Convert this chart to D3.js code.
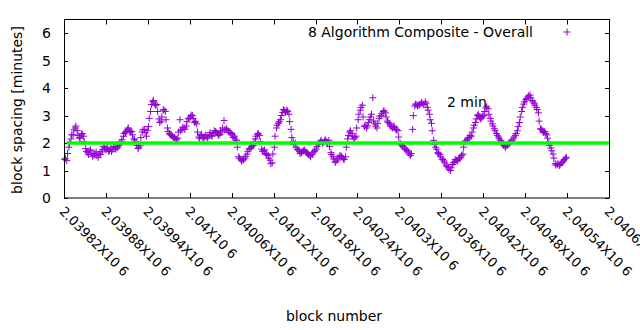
<!DOCTYPE html>
<html>
<head>
<meta charset="utf-8">
<script src="https://cdn.jsdelivr.net/npm/d3@7"></script>
<style>
  body { margin: 0; background: #fff; }
  text { font-family: "DejaVu Sans", sans-serif; fill: #000; }
</style>
</head>
<body>
<script>
// block spacing readings, two interleaved sets, one value every 3 blocks each
var firstBlock = 2039821;
var blockStep = 3;
var spacingA = [
  1.40, 1.36, 1.85, 2.15, 2.30, 2.55, 2.45, 2.20, 2.30, 2.25,
  1.80, 1.65, 1.72, 1.60, 1.55, 1.68, 1.48, 1.58, 1.75, 1.82,
  1.78, 1.70, 1.80, 1.76, 1.85, 1.82, 1.92, 2.05, 2.25, 2.38,
  2.50, 2.45, 2.42, 2.15, 2.05, 1.80, 1.90, 2.40, 2.50, 2.25,
  2.60, 3.15, 3.50, 3.42, 3.40, 2.88, 2.80, 3.20, 3.15, 2.55,
  2.35, 2.28, 2.20, 2.15, 2.18, 2.85, 2.50, 2.55, 2.62, 2.90,
  2.95, 3.00, 2.75, 2.70, 2.22, 2.28, 2.20, 2.25, 2.18, 2.30,
  2.28, 2.35, 2.42, 2.35, 2.32, 2.40, 2.82, 2.50, 2.45, 2.38,
  2.30, 2.25, 2.10, 1.50, 1.42, 1.38, 1.45, 1.60, 1.78, 1.85,
  1.92, 2.15, 2.32, 2.28, 1.78, 1.72, 1.62, 1.55, 1.38, 1.28,
  1.85, 2.55, 2.72, 2.85, 3.12, 3.18, 3.20, 3.05, 2.50, 2.05,
  2.00, 1.78, 1.70, 1.65, 1.72, 1.68, 1.62, 1.55, 1.58, 1.70,
  1.78, 1.95, 2.05, 2.00, 2.08, 2.05, 2.10, 1.65, 1.50, 1.30,
  1.38, 1.50, 1.52, 1.42, 1.50, 2.15, 2.40, 2.35, 2.15, 2.25,
  2.85, 3.20, 3.38, 2.60, 2.55, 2.75, 2.95, 3.65, 2.70, 2.55,
  2.90, 3.00, 3.15, 3.10, 2.80, 2.70, 2.60, 2.62, 2.48, 2.45,
  2.00, 1.92, 1.82, 1.75, 1.68, 1.55, 2.50, 3.35, 3.40, 3.38,
  3.45, 3.42, 3.50, 3.30, 3.05, 2.72, 2.10, 1.85, 1.65, 1.58,
  1.42, 1.35, 1.20, 1.12, 1.00, 1.22, 1.32, 1.38, 1.42, 1.48,
  1.60, 2.05, 2.12, 2.20, 2.25, 2.55, 2.75, 3.00, 2.95, 2.92,
  3.00, 3.28, 3.25, 2.90, 2.70, 2.52, 2.35, 2.22, 2.10, 1.98,
  1.88, 1.90, 2.00, 2.05, 2.15, 2.28, 2.45, 2.75, 3.15, 3.42,
  3.58, 3.68, 3.75, 3.55, 3.45, 3.30, 3.10, 2.52, 2.45, 2.42,
  2.30, 2.02, 1.82, 1.60, 1.25, 1.22, 1.18, 1.28, 1.35, 1.45
];
var spacingB = [
  1.45, 1.62, 2.00, 2.30, 2.48, 2.62, 2.28, 2.18, 2.35, 2.05,
  1.70, 1.58, 1.75, 1.52, 1.62, 1.55, 1.60, 1.68, 1.88, 1.76,
  1.85, 1.72, 1.70, 1.88, 1.78, 1.86, 2.00, 2.12, 2.35, 2.42,
  2.55, 2.40, 2.30, 2.12, 1.92, 1.85, 2.20, 2.48, 2.38, 2.45,
  2.90, 3.40, 3.55, 3.38, 3.15, 2.75, 2.95, 3.22, 2.85, 2.42,
  2.30, 2.25, 2.22, 2.12, 2.40, 2.45, 2.58, 2.50, 2.78, 2.88,
  3.02, 2.90, 2.78, 2.40, 2.18, 2.32, 2.15, 2.28, 2.22, 2.38,
  2.25, 2.45, 2.38, 2.28, 2.45, 2.55, 2.48, 2.52, 2.40, 2.35,
  2.20, 2.15, 1.85, 1.45, 1.35, 1.40, 1.52, 1.70, 1.80, 1.88,
  2.05, 2.25, 2.35, 2.05, 1.70, 1.75, 1.58, 1.45, 1.25, 1.60,
  2.25, 2.65, 2.78, 3.00, 3.22, 3.12, 3.15, 2.78, 2.20, 1.95,
  1.85, 1.75, 1.62, 1.70, 1.75, 1.65, 1.58, 1.50, 1.65, 1.72,
  1.88, 2.00, 2.10, 2.02, 2.12, 2.00, 1.88, 1.58, 1.42, 1.32,
  1.45, 1.55, 1.48, 1.40, 1.85, 2.28, 2.45, 2.25, 2.20, 2.55,
  3.05, 3.30, 2.95, 2.65, 2.62, 2.85, 3.05, 2.80, 2.62, 2.72,
  2.98, 3.08, 3.18, 2.95, 2.75, 2.62, 2.55, 2.58, 2.50, 2.22,
  1.95, 1.88, 1.78, 1.72, 1.60, 1.62, 3.00, 3.42, 3.35, 3.40,
  3.48, 3.40, 3.45, 3.20, 2.85, 2.45, 1.95, 1.78, 1.62, 1.50,
  1.40, 1.28, 1.15, 1.05, 1.10, 1.28, 1.40, 1.35, 1.45, 1.55,
  1.85, 2.08, 2.18, 2.28, 2.40, 2.65, 2.88, 3.05, 2.88, 2.98,
  3.15, 3.32, 3.05, 2.80, 2.62, 2.45, 2.28, 2.15, 2.05, 1.92,
  1.85, 1.95, 2.02, 2.10, 2.22, 2.35, 2.60, 2.95, 3.30, 3.50,
  3.62, 3.72, 3.65, 3.50, 3.38, 3.22, 2.80, 2.50, 2.38, 2.35,
  2.18, 1.92, 1.72, 1.45, 1.20, 1.25, 1.22, 1.30, 1.40, 1.48
];
var targetBlocks = [2039824, 2040600];
var targetMinutes = [2, 2];
var xTicks = [2039820, 2039880, 2039940, 2040000, 2040060, 2040120, 2040180,
              2040240, 2040300, 2040360, 2040420, 2040480, 2040540, 2040600];
var yTicks = [0, 1, 2, 3, 4, 5, 6];
var seriesName = "8 Algorithm Composite - Overall";
var targetLabel = "2 min";

var W = 640, H = 330;
var margin = {left: 64, right: 31, top: 19.5, bottom: 132};

var svg = d3.select("body").append("svg")
    .attr("width", W)
    .attr("height", H);

var x = d3.scaleLinear()
    .domain([2039820, 2040600])
    .range([margin.left, W - margin.right]);
var y = d3.scaleLinear()
    .domain([0, 6.5])
    .range([H - margin.bottom, margin.top]);

var points = [];
spacingA.forEach(function(v, i) {
    points.push({block: firstBlock + i * blockStep, value: v});
});
spacingB.forEach(function(v, i) {
    points.push({block: firstBlock + 1 + i * blockStep, value: v});
});

// ticks (inward) on all four sides
var g = svg.append("g").attr("stroke", "#000").attr("stroke-width", 1);
xTicks.forEach(function(t) {
    var px = Math.round(x(t)) + 0.5;
    g.append("line").attr("x1", px).attr("x2", px)
        .attr("y1", y(0)).attr("y2", y(0) - 5);
    g.append("line").attr("x1", px).attr("x2", px)
        .attr("y1", y(6.5)).attr("y2", y(6.5) + 5);
});
yTicks.forEach(function(t) {
    var py = Math.round(y(t)) + 0.5;
    g.append("line").attr("x1", x.range()[0]).attr("x2", x.range()[0] + 4)
        .attr("y1", py).attr("y2", py);
    g.append("line").attr("x1", x.range()[1]).attr("x2", x.range()[1] - 4)
        .attr("y1", py).attr("y2", py);
});

// tick labels
svg.selectAll("text.ytick")
    .data(yTicks)
    .enter().append("text")
    .attr("class", "ytick")
    .attr("x", 51)
    .attr("y", function(d) { return y(d); })
    .attr("dy", "0.36em")
    .attr("text-anchor", "end")
    .style("font-size", "14px")
    .text(function(d) { return d; });

svg.selectAll("text.xtick")
    .data(xTicks)
    .enter().append("text")
    .attr("class", "xtick")
    .attr("transform", function(d) {
        return "translate(" + (x(d) - 2) + ",209) rotate(45)";
    })
    .attr("dy", "0.36em")
    .style("font-size", "13px")
    .text(function(d) { return d3.format("")(d / 1e6) + "X10 6"; });

// data points as crosses
var cross = svg.append("g")
    .attr("stroke", "#9400d3")
    .attr("stroke-width", 1);
cross.selectAll("path")
    .data(points)
    .enter().append("path")
    .attr("d", function(d) {
        var px = x(d.block), py = y(d.value);
        return "M" + (px - 3.5) + "," + py + "H" + (px + 3.5) +
               "M" + px + "," + (py - 3.5) + "V" + (py + 3.5);
    });

// 2 minute target line
var line = d3.line()
    .x(function(d) { return x(d[0]); })
    .y(function(d) { return y(d[1]); });
svg.append("path")
    .datum(d3.zip(targetBlocks, targetMinutes))
    .attr("d", line)
    .attr("fill", "none")
    .attr("stroke", "#00ff00")
    .attr("stroke-width", 3.5);

// border
svg.append("rect")
    .attr("x", x.range()[0] + 0.5)
    .attr("y", y(6.5))
    .attr("width", x.range()[1] - x.range()[0])
    .attr("height", y(0) - y(6.5))
    .attr("fill", "none")
    .attr("stroke", "#000");

// key
svg.append("text")
    .attr("x", 533)
    .attr("y", 37)
    .attr("text-anchor", "end")
    .style("font-size", "14px")
    .text(seriesName);
svg.append("path")
    .attr("d", "M563.5,32H570.5M567,28.5V35.5")
    .attr("stroke", "#9400d3");

svg.append("text")
    .attr("x", 447)
    .attr("y", 106.5)
    .style("font-size", "14px")
    .text(targetLabel);

// axis titles
svg.append("text")
    .attr("transform", "translate(22,110) rotate(-90)")
    .attr("text-anchor", "middle")
    .style("font-size", "14px")
    .text("block spacing [minutes]");
svg.append("text")
    .attr("x", 334)
    .attr("y", 321)
    .attr("text-anchor", "middle")
    .style("font-size", "14px")
    .text("block number");
</script>
</body>
</html>
